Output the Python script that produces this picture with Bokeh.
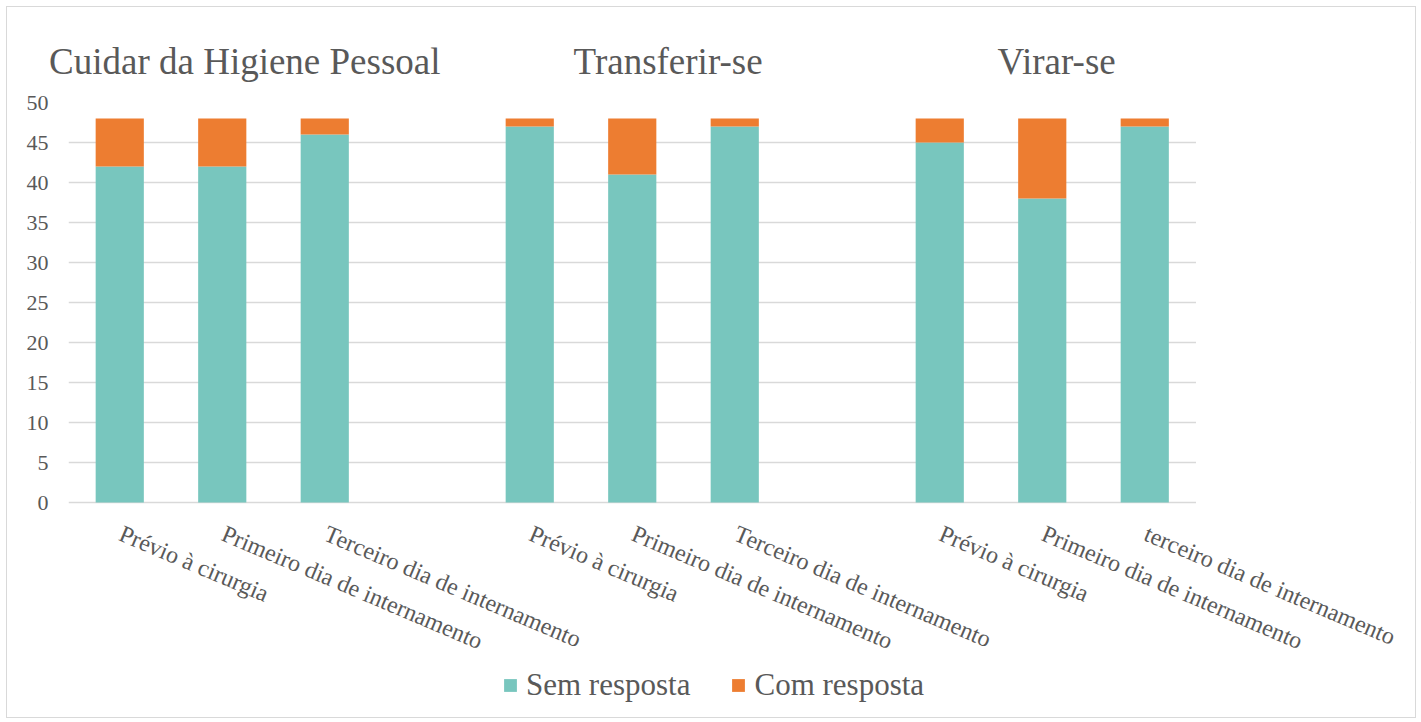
import numpy as np
from bokeh.plotting import figure
from bokeh.models import (Range1d, Legend, LegendItem, FixedTicker, LinearAxis,
                          Label, BoxAnnotation)
from bokeh.embed import file_html
from bokeh.resources import INLINE

# ---- data ----
groups = ["Cuidar da Higiene Pessoal", "Transferir-se", "Virar-se"]
moments = [
    ["Prévio à cirurgia", "Primeiro dia de internamento", "Terceiro dia de internamento"],
    ["Prévio à cirurgia", "Primeiro dia de internamento", "Terceiro dia de internamento"],
    ["Prévio à cirurgia", "Primeiro dia de internamento", "terceiro dia de internamento"],
]
sem_resposta = [42, 42, 46, 47, 41, 47, 45, 38, 47]
com_resposta = [6, 6, 2, 1, 7, 1, 3, 10, 1]
series_names = ["Sem resposta", "Com resposta"]
y_ticks = [0, 5, 10, 15, 20, 25, 30, 35, 40, 45, 50]

FONT = "Liberation Serif"
GREY = "#595959"
TEAL = "#78C6BE"
ORANGE = "#ED7D31"

# slot positions: 3 bars per group, then one empty slot
xpos = [g * 4 + i for g in range(len(groups)) for i in range(3)]
labels = [m for g in moments for m in g]
sem = np.array(sem_resposta)
com = np.array(com_resposta)
tops = sem + com
n_slots = len(groups) * 4 - 1          # 11 slots, last group has no trailing gap

# layout (pixels)
W, H = 1408, 710
BL, BR, BT, BB = 61, 5, 95, 8
FW, FH = W - BL - BR, H - BT - BB
PX_PER_SLOT = 102.5                    # chart area 1127 px for 11 slots
PX_PER_UNIT = 8.0                      # 400 px for 0..50
x_end = -0.5 + FW / PX_PER_SLOT
y_start = 50 - FH / PX_PER_UNIT

p = figure(width=W, height=H, frame_width=FW, frame_height=FH,
           min_border_left=BL, min_border_right=BR, min_border_top=BT, min_border_bottom=BB,
           x_range=Range1d(-0.5, x_end), y_range=Range1d(y_start, 50),
           output_backend="svg", toolbar_location=None,
           styles={"border": "1px solid #d9d9d9", "margin-left": "6px", "margin-top": "6px"})
p.outline_line_color = None
p.background_fill_color = "white"
p.border_fill_color = "white"

r1 = p.vbar(x=xpos, bottom=0, top=sem, width=0.47, fill_color=TEAL, line_color=None)
r2 = p.vbar(x=xpos, bottom=sem, top=tops, width=0.47, fill_color=ORANGE, line_color=None)

p.xaxis.visible = False
p.xgrid.visible = False
p.ygrid.ticker = FixedTicker(ticks=y_ticks)
p.ygrid.grid_line_color = "#D9D9D9"
p.ygrid.grid_line_width = 1.3
p.yaxis.ticker = FixedTicker(ticks=y_ticks)
p.yaxis.axis_line_color = None
p.yaxis.major_tick_line_color = None
p.yaxis.minor_tick_line_color = None
p.yaxis.major_tick_out = 0
p.yaxis.major_label_standoff = 20
p.yaxis.major_label_text_font = FONT
p.yaxis.major_label_text_font_size = "22px"
p.yaxis.major_label_text_color = GREY

# keep gridlines within the 11 category slots
p.add_layout(BoxAnnotation(left=n_slots - 0.5, fill_color="white", fill_alpha=1.0,
                           line_color=None))

# rotated category labels
for x, lab in zip(xpos, labels):
    p.add_layout(Label(x=x, y=-2.25, x_offset=6, text=lab, angle=-23, angle_units="deg",
                       text_align="left", text_baseline="top",
                       text_font=FONT, text_font_size="24px", text_color=GREY))

# group titles as an axis above
title_x = [1.22, 5.35, 9.14]
ta = LinearAxis(ticker=FixedTicker(ticks=title_x),
                major_label_overrides={x: g for x, g in zip(title_x, groups)},
                axis_line_color=None, major_tick_line_color=None, minor_tick_line_color=None,
                major_tick_out=0, major_tick_in=0, major_label_standoff=21,
                major_label_text_font=FONT, major_label_text_font_size="37px",
                major_label_text_color=GREY)
p.add_layout(ta, "above")

legend = Legend(items=[LegendItem(label=series_names[0], renderers=[r1]),
                       LegendItem(label=series_names[1], renderers=[r2])],
                orientation="horizontal", location=(434, 6),
                glyph_width=16, glyph_height=16, label_standoff=8, spacing=40,
                padding=0, margin=0, border_line_color=None, background_fill_alpha=0,
                label_text_font=FONT, label_text_font_size="31px", label_text_color=GREY)
p.add_layout(legend, "center")

open("out.html", "w").write(file_html(p, INLINE))
